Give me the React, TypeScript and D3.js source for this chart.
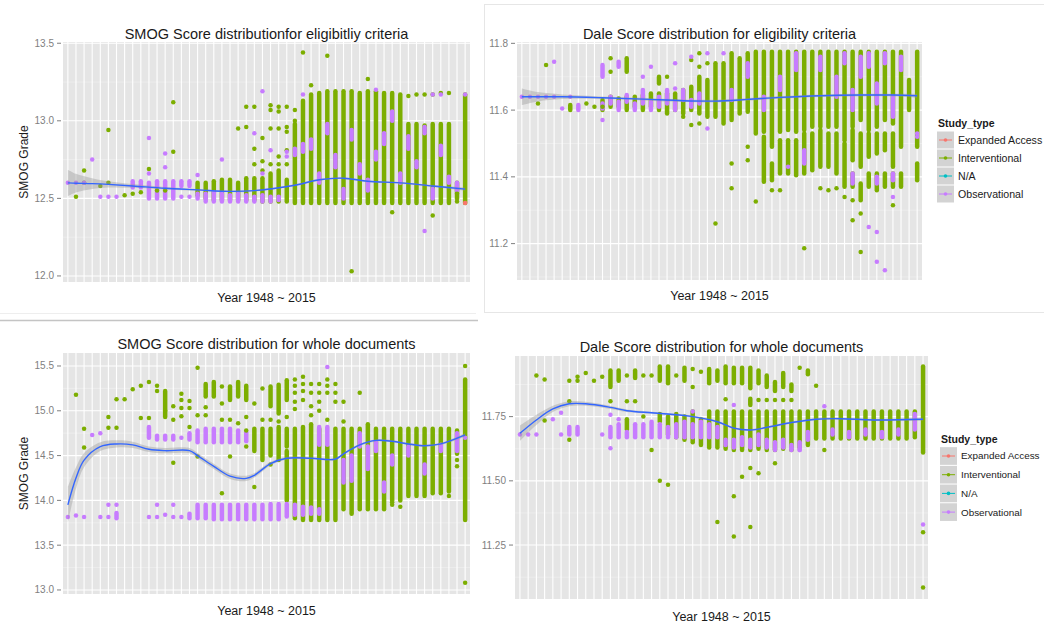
import React from 'react';
import * as d3 from 'd3';

type Run = [number, number, number]; // year, low, high (a stack of overlapping points)
type Dot = [number, number]; // year, score
type Fit = [number, number, number]; // year, smoothed value, half-width of band

const years = [1948, 1967, 1968, 1969, 1970, 1971, 1972, 1973, 1974, 1975, 1976, 1977, 1978, 1979, 1980,
  1981, 1982, 1983, 1984, 1985, 1986, 1987, 1988, 1989, 1990, 1991, 1992, 1993, 1994, 1995, 1996, 1997,
  1998, 1999, 2000, 2001, 2002, 2003, 2004, 2005, 2006, 2007, 2008, 2009, 2010, 2011, 2012, 2013, 2014, 2015];

const studyTypes = ['Expanded Access', 'Interventional', 'N/A', 'Observational'];
const typeColors = ['#F8766D', '#7CAE00', '#00BFC4', '#C77CFF'];

// ---- SMOG, eligibility criteria ----
const smogEligGreenRuns: Run[] = [
  [1982, 12.52, 12.6], [1983, 12.5, 12.6], [1984, 12.49, 12.61], [1985, 12.49, 12.62], [1986, 12.49, 12.62],
  [1987, 12.49, 12.6], [1988, 12.49, 12.63], [1989, 12.49, 12.63], [1990, 12.48, 12.63], [1991, 12.48, 12.66],
  [1992, 12.48, 12.68], [1993, 12.48, 12.62], [1994, 12.47, 12.98], [1995, 12.47, 13.13], [1996, 12.47, 13.17],
  [1997, 12.47, 13.18], [1998, 12.47, 13.19], [1999, 12.47, 13.19], [2000, 12.47, 13.19], [2001, 12.47, 13.19],
  [2002, 12.47, 13.18], [2003, 12.47, 13.19], [2004, 12.47, 13.19], [2005, 12.47, 13.18], [2006, 12.47, 13.18],
  [2007, 12.47, 13.17], [2008, 12.47, 12.98], [2009, 12.47, 12.98], [2010, 12.47, 12.97], [2011, 12.47, 12.98],
  [2012, 12.47, 12.98], [2013, 12.47, 12.98], [2014, 12.5, 12.6], [2015, 12.47, 13.17],
];
const smogEligPurpleRuns: Run[] = [
  [1974, 12.57, 12.61], [1975, 12.57, 12.61], [1976, 12.5, 12.6], [1977, 12.5, 12.61], [1978, 12.5, 12.61],
  [1979, 12.5, 12.61], [1980, 12.58, 12.61], [1981, 12.58, 12.61], [1982, 12.5, 12.53], [1983, 12.48, 12.53],
  [1984, 12.48, 12.54], [1985, 12.48, 12.53], [1986, 12.48, 12.52], [1987, 12.48, 12.53], [1988, 12.48, 12.52],
  [1989, 12.48, 12.51], [1990, 12.48, 12.52], [1991, 12.48, 12.51], [1992, 12.49, 12.51],
  [1994, 12.78, 12.82], [1995, 12.8, 12.85], [1996, 12.82, 12.88], [1997, 12.6, 12.66], [1998, 12.92, 12.98],
  [1999, 12.7, 12.78], [2000, 12.5, 12.56], [2001, 12.88, 12.94], [2002, 12.66, 12.72], [2003, 12.55, 12.62],
  [2004, 12.75, 12.8], [2005, 12.85, 12.92], [2006, 13.0, 13.06], [2007, 12.6, 12.66], [2008, 12.82, 12.9],
  [2009, 12.7, 12.74], [2010, 12.92, 12.96], [2011, 12.5, 12.56], [2012, 12.78, 12.84], [2013, 12.6, 12.64],
  [2014, 12.55, 12.6],
];
const smogEligGreenDots: Dot[] = [
  [1967, 12.51], [1968, 12.68], [1968, 12.6], [1970, 12.58], [1971, 12.94], [1971, 12.6], [1973, 12.52],
  [1974, 12.53], [1975, 12.54], [1976, 12.69], [1977, 12.55], [1978, 12.55], [1979, 13.12], [1979, 12.8],
  [1987, 12.95], [1988, 13.09], [1988, 12.96], [1989, 13.09], [1989, 12.82], [1989, 12.72], [1990, 12.89],
  [1990, 12.74], [1990, 12.68], [1991, 13.1], [1991, 13.07], [1991, 12.95], [1991, 12.72], [1992, 13.09],
  [1992, 13.06], [1992, 12.95], [1992, 12.77], [1992, 12.72], [1993, 13.09], [1993, 12.96], [1993, 12.93],
  [1993, 12.81], [1993, 12.72], [1994, 13.07], [1994, 13.0], [1995, 13.44], [1996, 13.23], [1998, 13.42],
  [2001, 12.03], [2003, 13.27], [2006, 12.41], [2011, 12.39], [2008, 13.16], [2009, 13.17], [2010, 13.17],
  [2011, 13.17], [2012, 13.18], [2013, 13.18], [2014, 12.53], [2014, 12.48],
];
const smogEligPurpleDots: Dot[] = [
  [1948, 12.6], [1967, 12.6], [1968, 12.6], [1969, 12.75], [1970, 12.51], [1971, 12.51], [1972, 12.51],
  [1976, 12.89], [1976, 12.66], [1978, 12.79], [1978, 12.7], [1980, 12.51], [1981, 12.51], [1982, 12.65],
  [1985, 12.75], [1989, 12.92], [1990, 13.19], [1990, 12.66], [1991, 12.81], [1993, 12.8], [1993, 12.77],
  [1995, 13.17], [2004, 13.2], [2010, 12.29], [2011, 13.17], [2012, 13.17], [2015, 13.17],
];
const smogEligRedDots: Dot[] = [[2015, 12.47]];
const smogEligSmooth: Fit[] = [
  [1948, 12.6, 0.085], [1967, 12.598, 0.06], [1969, 12.595, 0.035], [1971, 12.59, 0.02], [1974, 12.58, 0.012],
  [1978, 12.565, 0.008], [1982, 12.555, 0.006], [1986, 12.545, 0.006], [1989, 12.55, 0.006], [1994, 12.585, 0.006],
  [1997, 12.62, 0.006], [2000, 12.63, 0.006], [2003, 12.61, 0.006], [2007, 12.6, 0.006], [2011, 12.58, 0.006],
  [2015, 12.56, 0.01],
];

// ---- Dale, eligibility criteria ----
const daleEligGreenRuns: Run[] = [
  [1972, 11.6, 11.615], [1979, 11.715, 11.755], [1983, 11.68, 11.7],
  [1976, 11.6, 11.63], [1977, 11.61, 11.64], [1978, 11.61, 11.635], [1979, 11.6, 11.64], [1980, 11.61, 11.64],
  [1981, 11.6, 11.645], [1982, 11.61, 11.65], [1983, 11.6, 11.65], [1984, 11.59, 11.65], [1985, 11.6, 11.65],
  [1986, 11.59, 11.66], [1987, 11.6, 11.67], [1988, 11.59, 11.7], [1989, 11.58, 11.69],
  [1990, 11.58, 11.74], [1991, 11.56, 11.74], [1992, 11.57, 11.77], [1993, 11.59, 11.755], [1994, 11.595, 11.77],
  [1995, 11.53, 11.775], [1996, 11.535, 11.775], [1996, 11.385, 11.52], [1997, 11.49, 11.775], [1997, 11.39, 11.44],
  [1998, 11.535, 11.775], [1998, 11.41, 11.51], [1999, 11.54, 11.775], [1999, 11.41, 11.51],
  [2000, 11.535, 11.775], [2000, 11.405, 11.51], [2001, 11.54, 11.775], [2001, 11.41, 11.53],
  [2002, 11.55, 11.775], [2002, 11.42, 11.53], [2003, 11.55, 11.775], [2003, 11.43, 11.54],
  [2004, 11.55, 11.775], [2004, 11.43, 11.53], [2005, 11.55, 11.775], [2005, 11.41, 11.53],
  [2006, 11.51, 11.775], [2006, 11.37, 11.5], [2007, 11.55, 11.775], [2007, 11.45, 11.54], [2007, 11.37, 11.41],
  [2008, 11.57, 11.775], [2008, 11.43, 11.53], [2008, 11.33, 11.38], [2009, 11.54, 11.775], [2009, 11.46, 11.53],
  [2009, 11.37, 11.41], [2010, 11.55, 11.775], [2010, 11.47, 11.53], [2010, 11.36, 11.41],
  [2011, 11.57, 11.775], [2011, 11.48, 11.53], [2011, 11.37, 11.41], [2012, 11.56, 11.775], [2012, 11.43, 11.53],
  [2012, 11.37, 11.41], [2013, 11.49, 11.775], [2013, 11.37, 11.41], [2014, 11.6, 11.69],
  [2015, 11.49, 11.775], [2015, 11.39, 11.44],
];
const daleEligPurpleRuns: Run[] = [
  [1973, 11.6, 11.615], [1976, 11.7, 11.735], [1978, 11.73, 11.745],
  [1976, 11.605, 11.62], [1977, 11.62, 11.64], [1978, 11.6, 11.625], [1979, 11.625, 11.645], [1980, 11.6, 11.62],
  [1981, 11.62, 11.66], [1982, 11.6, 11.625], [1983, 11.61, 11.64], [1984, 11.62, 11.66], [1985, 11.6, 11.625],
  [1986, 11.63, 11.66], [1987, 11.61, 11.63], [1988, 11.62, 11.65],
  [1992, 11.63, 11.66], [1994, 11.7, 11.74], [1996, 11.6, 11.64], [1998, 11.66, 11.7], [2000, 11.72, 11.77],
  [2001, 11.44, 11.48], [2003, 11.72, 11.76], [2005, 11.64, 11.7], [2006, 11.74, 11.77], [2007, 11.6, 11.66],
  [2007, 11.38, 11.41], [2008, 11.7, 11.76], [2009, 11.73, 11.77], [2010, 11.62, 11.68], [2010, 11.38, 11.4],
  [2011, 11.74, 11.77], [2012, 11.58, 11.64], [2012, 11.39, 11.41], [2013, 11.72, 11.76],
];
const daleEligGreenDots: Dot[] = [
  [1968, 11.62], [1969, 11.735], [1974, 11.62], [1975, 11.61], [1976, 11.61], [1977, 11.755], [1977, 11.715],
  [1984, 11.7], [1986, 11.58], [1987, 11.75], [1987, 11.555], [1988, 11.77], [1988, 11.73], [1988, 11.56],
  [1989, 11.74], [1990, 11.26], [1992, 11.44], [1992, 11.366], [1994, 11.49], [1994, 11.45], [1995, 11.326],
  [1997, 11.36], [1998, 11.36], [2001, 11.186], [2003, 11.366], [2004, 11.36], [2005, 11.366], [2006, 11.34],
  [2007, 11.27], [2007, 11.33], [2008, 11.29], [2008, 11.175], [2012, 11.315],
];
const daleEligPurpleDots: Dot[] = [
  [1948, 11.64], [1967, 11.64], [1968, 11.64], [1969, 11.64], [1970, 11.745], [1970, 11.64], [1971, 11.605],
  [1972, 11.64], [1976, 11.57], [1981, 11.7], [1982, 11.73], [1985, 11.74], [1985, 11.665], [1987, 11.76],
  [1989, 11.77], [1989, 11.545], [1991, 11.77], [1999, 11.43], [2001, 11.45], [2009, 11.25], [2010, 11.235],
  [2010, 11.146], [2011, 11.12], [2012, 11.34], [2015, 11.52], [2015, 11.53],
];
const daleEligSmooth: Fit[] = [
  [1948, 11.64, 0.025], [1968, 11.64, 0.014], [1971, 11.64, 0.007], [1976, 11.637, 0.004], [1981, 11.633, 0.004],
  [1986, 11.628, 0.004], [1990, 11.627, 0.004], [1994, 11.632, 0.004], [1998, 11.638, 0.004], [2003, 11.643, 0.004],
  [2008, 11.645, 0.004], [2012, 11.645, 0.004], [2015, 11.643, 0.006],
];

// ---- SMOG, whole documents ----
const smogWholeGreenRuns: Run[] = [
  [1978, 14.93, 15.22], [1983, 15.16, 15.3], [1984, 15.16, 15.32], [1986, 15.12, 15.27], [1987, 15.16, 15.32],
  [1988, 15.12, 15.28], [1991, 15.05, 15.27], [1992, 14.97, 15.29], [1993, 15.12, 15.34],
  [1989, 14.55, 14.8], [1990, 14.45, 14.8], [1991, 14.5, 14.8], [1992, 14.45, 14.82],
  [1993, 14.0, 14.55], [1993, 14.6, 14.8], [1994, 13.8, 14.8], [1995, 13.78, 14.82], [1996, 13.78, 14.85],
  [1997, 13.78, 14.8], [1998, 13.78, 14.6], [1999, 13.78, 14.8], [2000, 13.9, 14.8], [2001, 13.85, 14.8],
  [2002, 13.9, 14.8], [2003, 13.9, 14.85], [2004, 13.9, 14.8], [2005, 13.9, 14.8], [2006, 14.0, 14.8],
  [2007, 14.0, 14.8], [2008, 14.05, 14.8], [2009, 14.05, 14.8], [2010, 14.05, 14.8], [2011, 14.08, 14.8],
  [2012, 14.08, 14.8], [2013, 14.1, 14.8], [2014, 14.52, 14.78], [2015, 13.78, 15.35],
];
const smogWholePurpleRuns: Run[] = [
  [1972, 13.8, 13.86], [1976, 14.7, 14.82], [1977, 14.68, 14.72], [1978, 14.68, 14.72], [1979, 14.68, 14.72],
  [1981, 14.68, 14.75], [1982, 14.65, 14.78], [1983, 14.65, 14.8], [1984, 14.65, 14.8], [1985, 14.65, 14.8],
  [1986, 14.65, 14.8], [1987, 14.65, 14.78], [1988, 14.66, 14.76],
  [1981, 13.8, 13.85], [1982, 13.8, 13.95], [1983, 13.8, 13.95], [1984, 13.79, 13.95], [1985, 13.79, 13.95],
  [1986, 13.79, 13.95], [1987, 13.79, 13.95], [1988, 13.79, 13.95], [1989, 13.79, 13.95], [1990, 13.79, 13.95],
  [1991, 13.79, 13.96], [1992, 13.79, 13.96], [1993, 13.82, 13.96], [1994, 13.84, 13.95], [1995, 13.84, 13.93],
  [1996, 13.85, 13.92], [1997, 13.85, 13.9], [1997, 14.62, 14.82], [1998, 14.62, 14.82],
  [2000, 14.2, 14.45], [2001, 14.22, 14.5], [2002, 14.6, 14.75], [2003, 14.35, 14.6], [2004, 14.55, 14.65],
  [2005, 14.1, 14.2], [2006, 14.4, 14.5], [2008, 14.5, 14.6], [2010, 14.3, 14.4], [2012, 14.55, 14.62],
  [2014, 14.55, 14.75],
];
const smogWholeGreenDots: Dot[] = [
  [1967, 15.18], [1968, 14.8], [1968, 14.59], [1971, 14.93], [1971, 14.81], [1972, 15.13], [1972, 14.81],
  [1973, 15.13], [1974, 15.24], [1975, 15.28], [1975, 14.92], [1976, 15.32], [1976, 14.92], [1977, 15.28],
  [1977, 15.22], [1978, 15.0], [1979, 14.42], [1979, 14.9], [1979, 15.05], [1980, 15.19], [1980, 15.12],
  [1980, 15.03], [1980, 14.94], [1981, 15.11], [1981, 15.03], [1981, 14.82], [1982, 15.48], [1982, 14.49],
  [1982, 14.95], [1983, 15.04], [1983, 14.95], [1985, 15.27], [1985, 15.08], [1985, 14.9], [1985, 14.08],
  [1986, 14.9], [1986, 14.49], [1987, 14.86], [1988, 14.93], [1988, 14.78], [1988, 14.6], [1989, 15.08],
  [1989, 14.15], [1990, 15.25], [1990, 14.9], [1991, 14.9], [1991, 14.4], [1992, 14.88], [1993, 14.93],
  [1994, 15.35], [1994, 15.28], [1994, 15.2], [1994, 15.1], [1994, 15.02], [1995, 15.38], [1995, 15.3],
  [1995, 15.22], [1995, 15.12], [1996, 15.3], [1996, 15.2], [1996, 15.05], [1996, 14.95], [1997, 15.3],
  [1997, 15.2], [1997, 15.1], [1997, 15.0], [1998, 15.35], [1998, 15.28], [1998, 15.2], [1998, 14.9],
  [1999, 15.3], [1999, 15.2], [1999, 15.1], [2000, 15.1], [2000, 14.88], [2002, 15.2], [2006, 13.98],
  [2006, 13.95], [2007, 13.93], [2013, 14.05], [2014, 14.45], [2014, 14.38], [2015, 15.5], [2015, 13.08],
];
const smogWholePurpleDots: Dot[] = [
  [1948, 13.815], [1967, 13.83], [1968, 13.815], [1970, 13.815], [1971, 13.815], [1969, 14.73], [1970, 14.75],
  [1971, 13.95], [1972, 13.95], [1976, 13.815], [1977, 13.815], [1977, 13.95], [1978, 13.84], [1979, 13.815],
  [1979, 13.95], [1980, 13.815], [1980, 14.7], [1998, 15.49], [2015, 14.7], [1994, 13.87],
];
const smogWholeSmooth: Fit[] = [
  [1948, 13.95, 0.2], [1967, 14.25, 0.12], [1968, 14.45, 0.08], [1970, 14.6, 0.05], [1972, 14.63, 0.04],
  [1974, 14.62, 0.035], [1976, 14.57, 0.03], [1978, 14.555, 0.03], [1981, 14.555, 0.03], [1982, 14.5, 0.03],
  [1984, 14.38, 0.03], [1986, 14.27, 0.03], [1988, 14.245, 0.03], [1989, 14.28, 0.025], [1991, 14.41, 0.02],
  [1993, 14.47, 0.015], [1996, 14.47, 0.012], [1999, 14.46, 0.012], [2000, 14.52, 0.012], [2002, 14.62, 0.012],
  [2004, 14.67, 0.012], [2006, 14.66, 0.012], [2008, 14.63, 0.012], [2010, 14.61, 0.012], [2012, 14.63, 0.012],
  [2015, 14.73, 0.02],
];

// ---- Dale, whole documents ----
const daleWholeGreenRuns: Run[] = [
  [1977, 11.865, 11.93], [1978, 11.89, 11.93], [1980, 11.9, 11.93], [1983, 11.89, 11.945], [1984, 11.88, 11.945],
  [1986, 11.89, 11.94], [1989, 11.88, 11.935], [1990, 11.89, 11.93], [1991, 11.88, 11.945], [1992, 11.88, 11.94],
  [1993, 11.88, 11.94], [1994, 11.86, 11.94], [1995, 11.88, 11.93], [1996, 11.865, 11.91], [1997, 11.85, 11.885],
  [1998, 11.865, 11.92], [1999, 11.85, 11.875], [2001, 11.915, 11.93], [1994, 11.795, 11.82],
  [1979, 11.7, 11.74], [1983, 11.73, 11.76], [1984, 11.68, 11.75], [1985, 11.67, 11.76], [1986, 11.66, 11.75],
  [1987, 11.65, 11.77], [1988, 11.64, 11.74], [1989, 11.63, 11.77], [1990, 11.63, 11.77], [1991, 11.625, 11.77],
  [1992, 11.62, 11.77], [1993, 11.62, 11.77], [1994, 11.62, 11.77], [1995, 11.625, 11.77], [1996, 11.62, 11.77],
  [1997, 11.62, 11.77], [1998, 11.625, 11.77], [1999, 11.62, 11.77], [2000, 11.63, 11.77], [2001, 11.64, 11.77],
  [2002, 11.665, 11.77], [2003, 11.665, 11.77], [2004, 11.665, 11.77], [2005, 11.665, 11.77], [2006, 11.665, 11.77],
  [2007, 11.665, 11.77], [2008, 11.665, 11.77], [2009, 11.665, 11.77], [2010, 11.665, 11.77], [2011, 11.665, 11.77],
  [2012, 11.665, 11.77], [2013, 11.665, 11.77], [2014, 11.67, 11.77], [2015, 11.61, 11.945],
];
const daleWholePurpleRuns: Run[] = [
  [1972, 11.68, 11.71], [1973, 11.68, 11.71], [1977, 11.67, 11.71], [1978, 11.67, 11.72], [1979, 11.67, 11.69],
  [1980, 11.67, 11.72], [1981, 11.67, 11.72], [1982, 11.67, 11.73], [1983, 11.67, 11.72], [1984, 11.67, 11.71],
  [1985, 11.67, 11.72], [1986, 11.67, 11.73], [1987, 11.67, 11.72], [1988, 11.67, 11.73], [1989, 11.67, 11.72],
  [1990, 11.67, 11.71], [1991, 11.64, 11.66], [1992, 11.63, 11.66], [1993, 11.64, 11.67], [1994, 11.63, 11.66],
  [1995, 11.64, 11.68], [1996, 11.63, 11.66], [1997, 11.62, 11.65], [1998, 11.63, 11.66], [1999, 11.62, 11.64],
  [2000, 11.62, 11.65], [2001, 11.66, 11.69], [2004, 11.68, 11.7], [2006, 11.67, 11.69], [2008, 11.68, 11.7],
  [2010, 11.67, 11.69], [2012, 11.68, 11.7], [2014, 11.7, 11.76],
];
const daleWholeGreenDots: Dot[] = [
  [1968, 11.91], [1969, 11.895], [1969, 11.735], [1972, 11.89], [1972, 11.81], [1972, 11.66], [1973, 11.89],
  [1973, 11.905], [1974, 11.92], [1975, 11.89], [1976, 11.905], [1977, 11.81], [1979, 11.81], [1979, 11.91],
  [1980, 11.81], [1981, 11.91], [1981, 11.75], [1982, 11.91], [1982, 11.62], [1983, 11.5], [1984, 11.485],
  [1985, 11.91], [1987, 11.865], [1987, 11.935], [1988, 11.925], [1990, 11.34], [1991, 11.818], [1992, 11.44],
  [1992, 11.283], [1993, 11.516], [1994, 11.55], [1994, 11.32], [1995, 11.815], [1995, 11.53], [1996, 11.815],
  [1997, 11.815], [1997, 11.568], [1998, 11.815], [1999, 11.815], [2000, 11.94], [2002, 11.87], [2003, 11.62],
  [2015, 11.3], [2015, 11.085],
];
const daleWholePurpleDots: Dot[] = [
  [1948, 11.68], [1967, 11.68], [1968, 11.68], [1970, 11.74], [1971, 11.765], [1971, 11.68], [1976, 11.68],
  [1977, 11.757], [1977, 11.627], [1978, 11.74], [1987, 11.77], [1992, 11.795], [1999, 11.627], [2000, 11.62],
  [2003, 11.79], [2014, 11.737], [2015, 11.33],
];
const daleWholeSmooth: Fit[] = [
  [1948, 11.685, 0.03], [1968, 11.737, 0.02], [1970, 11.78, 0.012], [1972, 11.8, 0.01], [1974, 11.8, 0.008],
  [1977, 11.786, 0.006], [1979, 11.773, 0.005], [1982, 11.765, 0.004], [1984, 11.76, 0.004], [1987, 11.75, 0.004],
  [1990, 11.73, 0.004], [1992, 11.705, 0.004], [1994, 11.698, 0.004], [1996, 11.708, 0.004], [1999, 11.727, 0.004],
  [2002, 11.74, 0.004], [2005, 11.742, 0.004], [2009, 11.737, 0.004], [2015, 11.74, 0.006],
];

const FONT = 'Liberation Sans, Arial, Helvetica, sans-serif';

interface PanelProps {
  x: number; y: number; w: number; h: number;
  domain: [number, number];
  ticks: number[];
  fmt: string;
  title: string; titleY: number; xTitleY: number;
  yTitle?: string; yTitleX?: number;
  greenRuns: Run[]; purpleRuns: Run[];
  greenDots: Dot[]; purpleDots: Dot[]; redDots: Dot[];
  smooth: Fit[];
}

function Panel(p: PanelProps) {
  const xs = d3.scalePoint<number>().domain(years).range([p.x, p.x + p.w]).padding(0.6);
  const ys = d3.scaleLinear().domain(p.domain).range([p.y + p.h, p.y]);
  const step = p.ticks[1] - p.ticks[0];
  const minor = [p.ticks[0] - step / 2, ...p.ticks.map(t => t + step / 2)]
    .filter(v => v > p.domain[0] && v < p.domain[1]);
  const fmt = d3.format(p.fmt);
  const curve = d3.curveCatmullRom.alpha(0.5);
  const line = d3.line<Fit>().x(d => xs(d[0])!).y(d => ys(d[1])).curve(curve);
  const band = d3.area<Fit>().x(d => xs(d[0])!).y0(d => ys(d[1] - d[2])).y1(d => ys(d[1] + d[2])).curve(curve);
  const r = 2.25;

  const runs = (data: Run[], color: string) => data.map((d, i) => (
    <line key={i} x1={xs(d[0])} x2={xs(d[0])} y1={ys(d[1])} y2={ys(d[2])}
      stroke={color} strokeWidth={r * 2} strokeLinecap="round" />
  ));
  const dots = (data: Dot[], color: string) => data.map((d, i) => (
    <circle key={i} cx={xs(d[0])} cy={ys(d[1])} r={r} fill={color} />
  ));

  return (
    <g>
      <rect x={p.x} y={p.y} width={p.w} height={p.h} fill="#E5E5E5" />
      {minor.map(v => (
        <line key={'m' + v} x1={p.x} x2={p.x + p.w} y1={ys(v)} y2={ys(v)} stroke="#F2F2F2" strokeWidth={0.6} />
      ))}
      {p.ticks.map(v => (
        <line key={'t' + v} x1={p.x} x2={p.x + p.w} y1={ys(v)} y2={ys(v)} stroke="#fff" strokeWidth={1.1} />
      ))}
      {years.map(yr => (
        <line key={'v' + yr} x1={xs(yr)} x2={xs(yr)} y1={p.y} y2={p.y + p.h} stroke="#fff" strokeWidth={1.1} />
      ))}
      <g>{runs(p.greenRuns, typeColors[1])}</g>
      <g>{runs(p.purpleRuns, typeColors[3])}</g>
      <g>{dots(p.greenDots, typeColors[1])}</g>
      <g>{dots(p.purpleDots, typeColors[3])}</g>
      <g>{dots(p.redDots, typeColors[0])}</g>
      <path d={band(p.smooth) || ''} fill="#999999" fillOpacity={0.4} />
      <path d={line(p.smooth) || ''} fill="none" stroke="#3366FF" strokeWidth={1.4} />
      {p.ticks.map(v => (
        <g key={'l' + v}>
          <line x1={p.x - 6} x2={p.x - 2} y1={ys(v)} y2={ys(v)} stroke="#7F7F7F" strokeWidth={1} />
          <text x={p.x - 9} y={ys(v)} dy="0.35em" textAnchor="end" fontSize={10} fill="#7F7F7F" fontFamily={FONT}>
            {fmt(v)}
          </text>
        </g>
      ))}
      <text x={p.x + p.w / 2} y={p.titleY} textAnchor="middle" fontSize={14.5} fill="#1a1a1a" fontFamily={FONT}>
        {p.title}
      </text>
      <text x={p.x + p.w / 2} y={p.xTitleY} textAnchor="middle" fontSize={12.5} fill="#1a1a1a" fontFamily={FONT}>
        Year 1948 ~ 2015
      </text>
      {p.yTitle && (
        <text transform={`translate(${p.yTitleX},${p.y + p.h / 2}) rotate(-90)`} textAnchor="middle" dy="0.35em"
          fontSize={12} fill="#1a1a1a" fontFamily={FONT}>
          {p.yTitle}
        </text>
      )}
    </g>
  );
}

function Legend({ x, y, rowH, size }: { x: number; y: number; rowH: number; size: number }) {
  return (
    <g fontFamily={FONT}>
      <text x={x} y={y} fontSize={10.5} fontWeight="bold" fill="#1a1a1a">Study_type</text>
      {studyTypes.map((s, i) => {
        const cy = y + 13 + i * rowH;
        return (
          <g key={s}>
            <rect x={x - 1} y={cy - rowH / 2 + 0.5} width={17} height={rowH - 1} fill="#D3D3D3" />
            <line x1={x + 1} x2={x + 14} y1={cy} y2={cy} stroke={typeColors[i]} strokeWidth={1} />
            <circle cx={x + 7.5} cy={cy} r={1.8} fill={typeColors[i]} />
            <text x={x + 20} y={cy} dy="0.35em" fontSize={size} fill="#1a1a1a">{s}</text>
          </g>
        );
      })}
    </g>
  );
}

export default function App() {
  return (
    <svg width={1044} height={628} style={{ position: 'absolute', left: 0, top: 0, background: '#fff' }}>
      <line x1={0} x2={476} y1={313.5} y2={313.5} stroke="#eeeeee" strokeWidth={1} />
      <line x1={0} x2={478} y1={320.5} y2={320.5} stroke="#c4c4c4" strokeWidth={1.5} />
      <rect x={484.5} y={4.5} width={560} height={308} fill="none" stroke="#e6e6e6" strokeWidth={1} />

      <Panel x={63} y={42} w={407} h={240} domain={[11.961, 13.508]} ticks={[12.0, 12.5, 13.0, 13.5]} fmt=".1f"
        title="SMOG Score distributionfor eligibitliy criteria" titleY={39} xTitleY={302}
        yTitle="SMOG Grade" yTitleX={24}
        greenRuns={smogEligGreenRuns} purpleRuns={smogEligPurpleRuns}
        greenDots={smogEligGreenDots} purpleDots={smogEligPurpleDots} redDots={smogEligRedDots}
        smooth={smogEligSmooth} />

      <Panel x={517} y={42} w={405} h={238} domain={[11.091, 11.804]} ticks={[11.2, 11.4, 11.6, 11.8]} fmt=".1f"
        title="Dale Score distribution for eligibility criteria" titleY={39} xTitleY={300}
        greenRuns={daleEligGreenRuns} purpleRuns={daleEligPurpleRuns}
        greenDots={daleEligGreenDots} purpleDots={daleEligPurpleDots} redDots={[]}
        smooth={daleEligSmooth} />
      <Legend x={938} y={127} rowH={18} size={10.6} />

      <Panel x={63} y={353} w={407} h={241} domain={[12.955, 15.645]} ticks={[13.0, 13.5, 14.0, 14.5, 15.0, 15.5]}
        fmt=".1f" title="SMOG Score distribution for whole documents" titleY={349} xTitleY={615}
        yTitle="SMOG Grade" yTitleX={24}
        greenRuns={smogWholeGreenRuns} purpleRuns={smogWholePurpleRuns}
        greenDots={smogWholeGreenDots} purpleDots={smogWholePurpleDots} redDots={[]}
        smooth={smogWholeSmooth} />

      <Panel x={515} y={356} w={413} h={243} domain={[11.04, 11.986]} ticks={[11.25, 11.5, 11.75]} fmt=".2f"
        title="Dale Score distribution for whole documents" titleY={352} xTitleY={621}
        greenRuns={daleWholeGreenRuns} purpleRuns={daleWholePurpleRuns}
        greenDots={daleWholeGreenDots} purpleDots={daleWholePurpleDots} redDots={[]}
        smooth={daleWholeSmooth} />
      <Legend x={941} y={443} rowH={18.7} size={9.9} />
    </svg>
  );
}
